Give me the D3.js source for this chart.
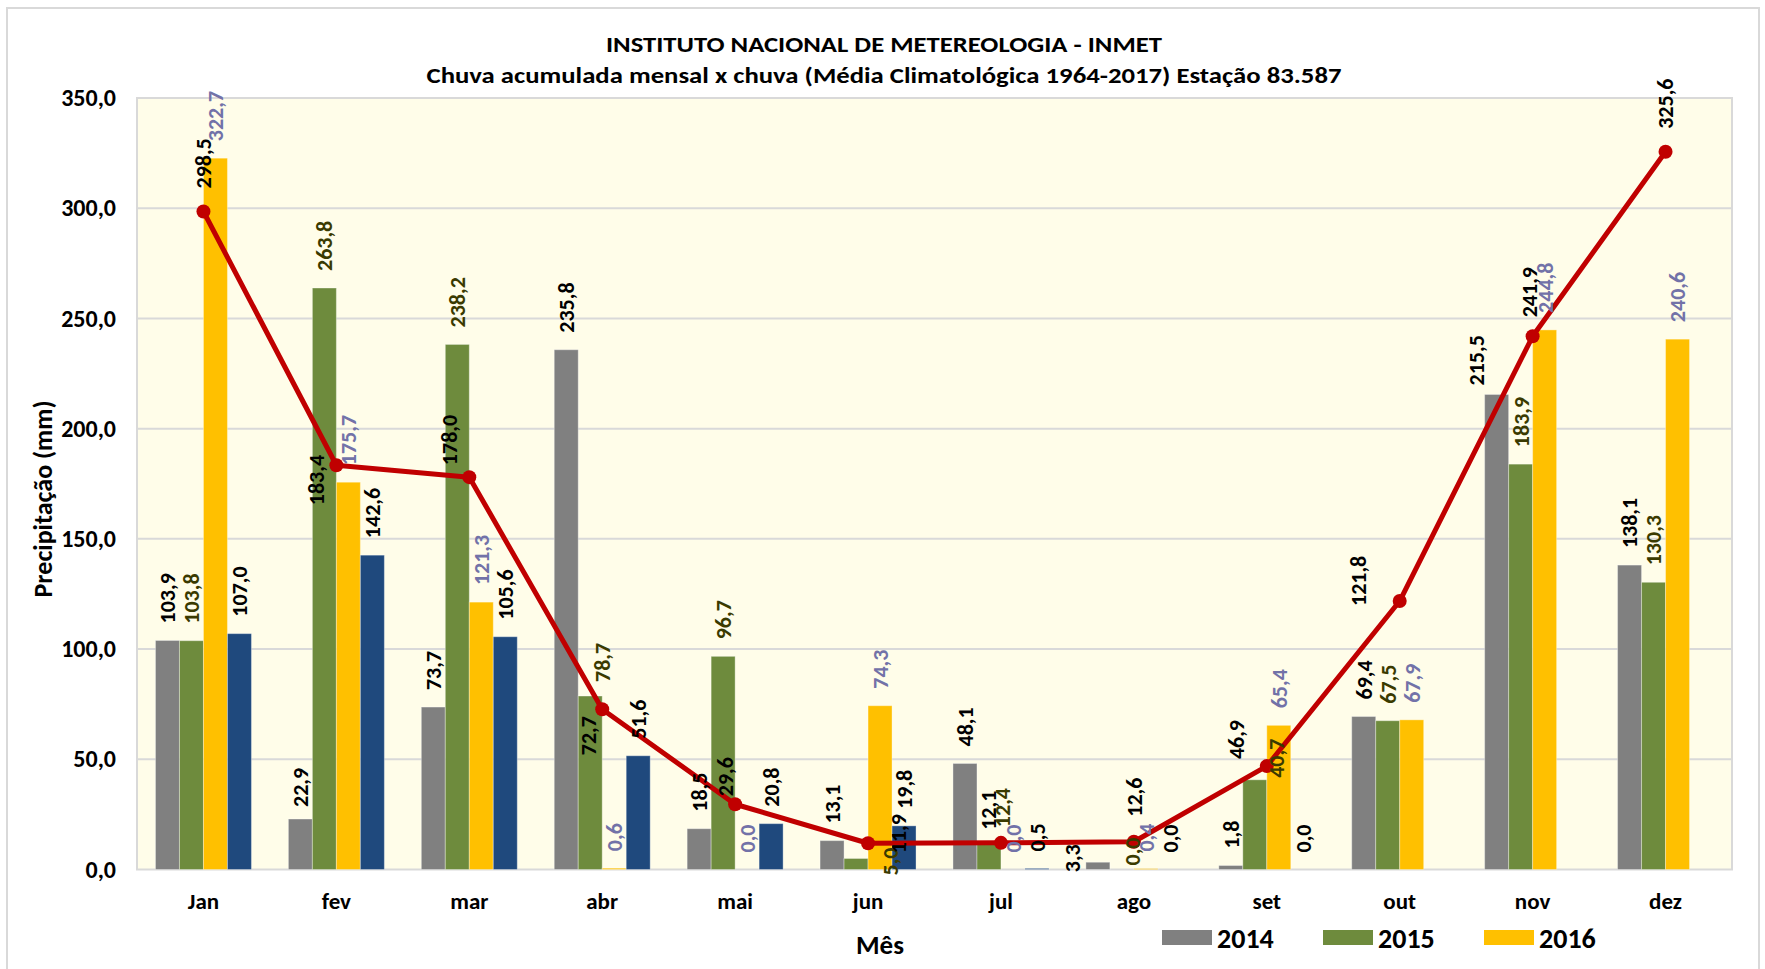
<!DOCTYPE html>
<html>
<head>
<meta charset="utf-8">
<script src="https://cdn.jsdelivr.net/npm/d3@7"></script>
<style>
  html, body { margin: 0; padding: 0; background: #ffffff; }
  svg { display: block; }
  text { font-family: Carlito, Calibri, Lato, "Open Sans", sans-serif; font-weight: bold; }
</style>
</head>
<body>
<svg id="chart" width="1765" height="969"></svg>
<script>
// ---------------- DATA ----------------
const months = ["Jan", "fev", "mar", "abr", "mai", "jun", "jul", "ago", "set", "out", "nov", "dez"];
const seriesNames = ["2014", "2015", "2016", "2017"];
const v2014 = [103.9, 22.9, 73.7, 235.8, 18.5, 13.1, 48.1, 3.3, 1.8, 69.4, 215.5, 138.1];
const v2015 = [103.8, 263.8, 238.2, 78.7, 96.7, 5.0, 12.4, 0.0, 40.7, 67.5, 183.9, 130.3];
const v2016 = [322.7, 175.7, 121.3, 0.6, 0.0, 74.3, 0.0, 0.4, 65.4, 67.9, 244.8, 240.6];
const v2017 = [107.0, 142.6, 105.6, 51.6, 20.8, 19.8, 0.5, 0.0, 0.0, null, null, null];
const climatology = [298.5, 183.4, 178.0, 72.7, 29.6, 11.9, 12.1, 12.6, 46.9, 121.8, 241.9, 325.6];
const yTicks = [0, 50, 100, 150, 200, 250, 300, 350];
const legendYears = ["2014", "2015", "2016"];
const titleText = "INSTITUTO NACIONAL DE METEREOLOGIA - INMET";
const subtitleText = "Chuva acumulada mensal x chuva (Média Climatológica 1964-2017) Estação 83.587";
const yTitle = "Precipitação (mm)";
const xTitle = "Mês";

// ---------------- STYLE ----------------
const barColors = { "2014": "#808080", "2015": "#6E8B3D", "2016": "#FFC000", "2017": "#1F497D" };
const labelColors = { "2014": "#000000", "2015": "#3A3A00", "2016": "#7272A8", "2017": "#000000" };
const lineColor = "#C00000";
// label nudges (pixels) copied from the reference layout: [dx, gap above value]
const barLabelNudge = {
  "2014-1": [0, 12], "2014-7": [-26, -10], "2014-10": [-21, 9],
  "2015-3": [12, 14], "2015-5": [34, -17], "2015-6": [13, 15], "2015-7": [10, 4], "2015-8": [21, 2]
};
const lineLabelNudge = {
  1: [-20, -40], 2: [-20, 12], 3: [-14, -46], 4: [-10, 8], 5: [30, -10],
  6: [-13, 13], 7: [0, 25], 8: [-31, 7], 9: [-42, -5], 10: [-4, 19]
};

const fmt = v => d3.format(".1f")(v).replace(".", ",");
const FONT = "Carlito, Calibri, Lato, sans-serif";

const svg = d3.select("#chart");
const plot = { left: 137, right: 1732, top: 98, bottom: 869.5 };

// outer chart border
svg.append("rect").attr("x", 7).attr("y", 8).attr("width", 1752).attr("height", 975)
  .attr("fill", "#ffffff").attr("stroke", "#d9d9d9").attr("stroke-width", 2);

const x0 = d3.scaleBand().domain(months).range([plot.left, plot.right]).padding(0);
const bw = x0.bandwidth();
const x1 = d3.scaleBand().domain(seriesNames).range([bw * 0.139, bw * 0.861]).padding(0);
const y = d3.scaleLinear().domain([0, 350]).range([plot.bottom, plot.top]);

// plot area
svg.append("rect").attr("x", plot.left).attr("y", plot.top)
  .attr("width", plot.right - plot.left).attr("height", plot.bottom - plot.top)
  .attr("fill", "#FFFDE9");

// gridlines
svg.append("g").selectAll("line").data(yTicks.filter(t => t > 0 && t < 350)).join("line")
  .attr("x1", plot.left).attr("x2", plot.right)
  .attr("y1", d => y(d)).attr("y2", d => y(d))
  .attr("stroke", "#d9d9d9").attr("stroke-width", 2);

// plot border
svg.append("rect").attr("x", plot.left).attr("y", plot.top)
  .attr("width", plot.right - plot.left).attr("height", plot.bottom - plot.top)
  .attr("fill", "none").attr("stroke", "#d9d9d9").attr("stroke-width", 2);

// y axis (tick labels only)
const yAxis = d3.axisLeft(y).tickValues(yTicks).tickFormat(fmt).tickSize(0).tickPadding(21);
const gy = svg.append("g").attr("transform", `translate(${plot.left},0)`).call(yAxis);
gy.select(".domain").remove();
gy.selectAll("text").attr("font-size", 24).attr("fill", "#000")
  .style("font-family", FONT).style("font-weight", "bold");

// x axis labels
const xAxis = d3.axisBottom(x0).tickSize(0).tickPadding(0);
const gx = svg.append("g").attr("transform", `translate(0,${plot.bottom})`).call(xAxis);
gx.select(".domain").remove();
gx.selectAll("text").attr("font-size", 23).attr("fill", "#000").attr("dy", null)
  .attr("y", 34).attr("dominant-baseline", "middle")
  .style("font-family", FONT).style("font-weight", "bold");

// bars
const seriesData = { "2014": v2014, "2015": v2015, "2016": v2016, "2017": v2017 };
const barRows = [];
seriesNames.forEach(s => seriesData[s].forEach((v, i) => {
  if (v !== null) barRows.push({ s, i, v });
}));
svg.append("g").selectAll("rect").data(barRows).join("rect")
  .attr("x", d => x0(months[d.i]) + x1(d.s))
  .attr("width", x1.bandwidth())
  .attr("y", d => y(d.v))
  .attr("height", d => y(0) - y(d.v))
  .attr("fill", d => barColors[d.s])
  .attr("stroke", "rgba(255,255,255,0.35)").attr("stroke-width", 1);

// line
const lineGen = d3.line().x((d, i) => x0(months[i]) + bw / 2).y(d => y(d));
svg.append("path").datum(climatology).attr("d", lineGen)
  .attr("fill", "none").attr("stroke", lineColor).attr("stroke-width", 5)
  .attr("stroke-linejoin", "round");
svg.append("g").selectAll("circle").data(climatology).join("circle")
  .attr("cx", (d, i) => x0(months[i]) + bw / 2).attr("cy", d => y(d)).attr("r", 7)
  .attr("fill", lineColor);

// bar labels (rotated)
svg.append("g").selectAll("text").data(barRows).join("text")
  .attr("transform", d => {
    const n = barLabelNudge[d.s + "-" + d.i] || [0, 17];
    const cx = x0(months[d.i]) + x1(d.s) + x1.bandwidth() / 2 + n[0];
    const by = y(d.v) - n[1];
    return `translate(${cx},${by}) rotate(-90)`;
  })
  .attr("dy", "0.36em").attr("font-size", 22)
  .attr("fill", d => labelColors[d.s]).text(d => fmt(d.v));

// line labels
svg.append("g").selectAll("text").data(climatology).join("text")
  .attr("transform", (d, i) => {
    const n = lineLabelNudge[i] || [0, 23];
    const cx = x0(months[i]) + bw / 2 + n[0];
    const by = y(d) - n[1];
    return `translate(${cx},${by}) rotate(-90)`;
  })
  .attr("dy", "0.36em").attr("font-size", 22).attr("fill", "#000").text(d => fmt(d));

// titles
svg.append("text").attr("x", 884).attr("y", 52).attr("text-anchor", "middle")
  .attr("font-size", 23).attr("textLength", 556).attr("lengthAdjust", "spacingAndGlyphs")
  .text(titleText);
svg.append("text").attr("x", 884).attr("y", 83).attr("text-anchor", "middle")
  .attr("font-size", 23).attr("textLength", 915).attr("lengthAdjust", "spacingAndGlyphs")
  .text(subtitleText);

// axis titles
svg.append("text").attr("transform", "translate(43,499) rotate(-90)")
  .attr("text-anchor", "middle").attr("dy", "0.36em").attr("font-size", 26).text(yTitle);
svg.append("text").attr("x", 880).attr("y", 944).attr("text-anchor", "middle")
  .attr("dy", "0.36em").attr("font-size", 27).text(xTitle);

// legend
const legendX = d3.scalePoint().domain(legendYears).range([1162, 1484]);
const lg = svg.append("g").selectAll("g").data(legendYears).join("g")
  .attr("transform", d => `translate(${legendX(d)},930)`);
lg.append("rect").attr("width", 50).attr("height", 15).attr("fill", d => barColors[d]);
lg.append("text").attr("x", 55).attr("y", 7.5).attr("dy", "0.36em")
  .attr("font-size", 28).text(d => d);
</script>
</body>
</html>
